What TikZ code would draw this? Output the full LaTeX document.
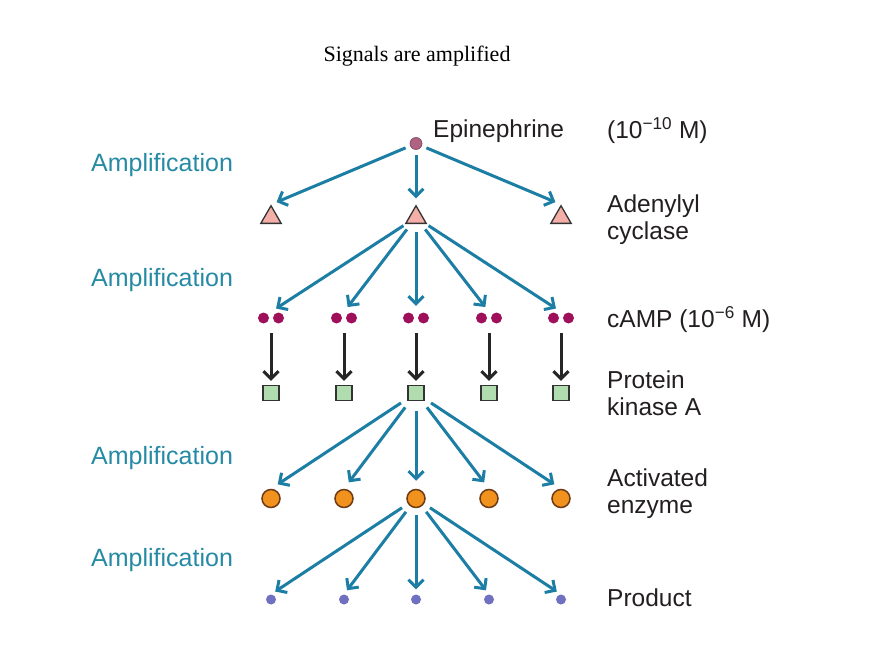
\documentclass[tikz,border=0pt]{standalone}
\usepackage{fontspec}
\setmainfont{Liberation Serif}
\newfontfamily\labfont{Liberation Sans}
\usetikzlibrary{arrows.meta,shapes.geometric}
\definecolor{arrowc}{RGB}{28,126,164}
\definecolor{ampc}{RGB}{38,138,164}
\definecolor{labc}{RGB}{35,31,32}
\definecolor{epic}{RGB}{176,98,130}
\definecolor{tric}{RGB}{244,176,168}
\definecolor{campc}{RGB}{160,16,90}
\definecolor{pkac}{RGB}{176,220,176}
\definecolor{enzc}{RGB}{242,146,30}
\definecolor{enzd}{RGB}{110,60,20}
\definecolor{prodc}{RGB}{112,112,192}
\tikzset{
  arr/.style={draw=arrowc, line width=3pt, -{Straight Barb[length=7.5pt,width=15pt]}},
  karr/.style={draw=black!85, line width=3pt, -{Straight Barb[length=7.5pt,width=15pt]}},
  amp/.style={text=ampc, font=\labfont\fontsize{25}{27}\selectfont, anchor=west, inner sep=0pt},
  lab/.style={text=labc, font=\labfont\fontsize{24.5}{27}\selectfont, anchor=west, align=left, inner sep=0pt},
  epidot/.style={circle, fill=epic, draw=epic!70!black, line width=0.6pt, minimum size=12pt, inner sep=0pt},
  tri/.style={regular polygon, regular polygon sides=3, fill=tric, draw=black!80, line width=1.3pt, minimum size=23.5pt, inner sep=0pt},
  campdot/.style={circle, fill=campc, minimum size=11pt, inner sep=0pt},
  pair/.style={minimum width=26pt, minimum height=12pt, inner sep=0pt},
  pka/.style={rectangle, fill=pkac, draw=black!80, line width=1.3pt, minimum width=16pt, minimum height=15pt, inner sep=0pt},
  enz/.style={circle, fill=enzc, draw=enzd, line width=1.5pt, minimum size=18pt, inner sep=0pt},
  prod/.style={circle, fill=prodc, minimum size=10pt, inner sep=0pt}
}
\begin{document}
\begin{tikzpicture}[x=1pt,y=-1pt]
\useasboundingbox[fill=white] (0,0) rectangle (880,660);
\node[font=\fontsize{22}{24}\selectfont, inner sep=0pt] (title) at (417,56) {Signals are amplified};

% labels
\node[amp] (a1) at (91,165) {Amplification};
\node[amp] (a2) at (91,280) {Amplification};
\node[amp] (a3) at (91,458) {Amplification};
\node[amp] (a4) at (91,560) {Amplification};

\node[lab] (lepi) at (433,131) {Epinephrine};
\node[lab] (lconc1) at (607,131) {(10\textsuperscript{\char"2212 10} M)};
\node[lab] (lac) at (607,220) {Adenylyl\\cyclase};
\node[lab] (lcamp) at (607,320) {cAMP (10\textsuperscript{\char"2212 6} M)};
\node[lab] (lpka) at (607,393.5) {Protein\\kinase A};
\node[lab] (lenz) at (607,494) {Activated\\enzyme};
\node[lab] (lprod) at (607,598) {Product};

% shapes
\node[epidot] (epi) at (416,143.5) {};
\foreach \i/\x in {1/271,2/416,3/561}{
  \node[tri] (t\i) at (\x,217.5) {};
}
\foreach \i/\x in {1/271,2/344,3/416,4/489,5/561}{
  \node[pair] (c\i) at (\x,318) {};
  \node[campdot] (c\i a) at (\x-7.5,318) {};
  \node[campdot] (c\i b) at (\x+7.5,318) {};
  \node[pka] (k\i) at (\x,393) {};
  \node[enz] (e\i) at (\x,498.5) {};
  \node[prod] (p\i) at (\x,599.5) {};
}

% connectors
\foreach \i in {1,2,3}{
  \draw[arr, shorten <=5pt, shorten >=6pt] (epi) -- (t\i.north);
}
\foreach \i in {1,...,5}{
  \draw[arr, shorten <=15pt, shorten >=6pt] (t2.center) -- (c\i.north);
  \draw[karr, shorten <=9pt, shorten >=4pt] (c\i.south) -- (k\i.north);
  \draw[arr, shorten <=18pt, shorten >=8pt] (k3.center) -- (e\i.north);
  \draw[arr, shorten <=7pt, shorten >=5pt] (e3) -- (p\i.north);
}
\end{tikzpicture}
\end{document}
